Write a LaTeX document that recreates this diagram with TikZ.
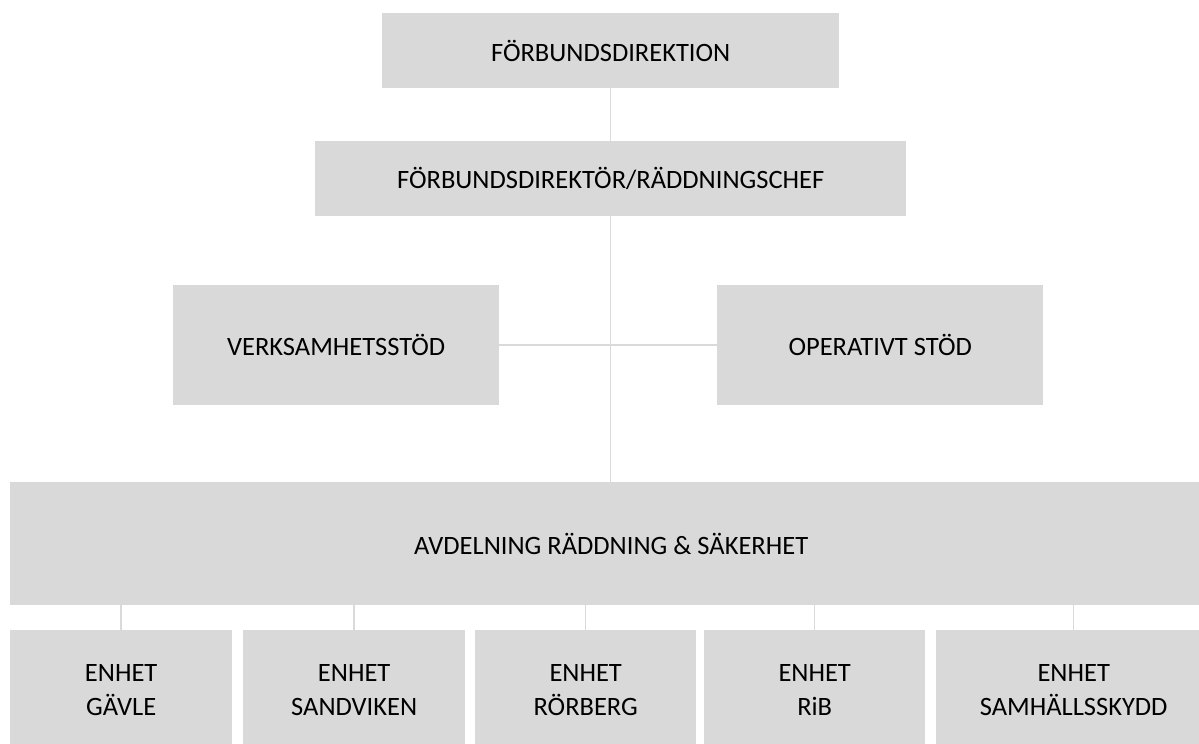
\documentclass[tikz,border=0pt]{standalone}
\usepackage{fontspec}
\setmainfont{Carlito}
\definecolor{boxgray}{HTML}{D9D9D9}
\definecolor{linegray}{HTML}{DADADA}
\begin{document}
\begin{tikzpicture}[x=1pt,y=-1pt,
  orgbox/.style={fill=boxgray, draw=none, inner sep=0pt, anchor=north west, align=center,
    font=\fontsize{26.5}{34}\selectfont, text=black},
  conn/.style={draw=linegray, line width=1.5pt}]
\clip (0,0) rectangle (1199,744);
\fill[white] (0,0) rectangle (1199,744);
% boxes
\node[orgbox, minimum width=457pt, minimum height=75pt] (dir) at (382,13) {FÖRBUNDSDIREKTION};
\node[orgbox, minimum width=591pt, minimum height=75pt] (chef) at (315,141) {FÖRBUNDSDIREKTÖR/RÄDDNINGSCHEF};
\node[orgbox, minimum width=326pt, minimum height=120pt] (verk) at (173,285) {VERKSAMHETSSTÖD};
\node[orgbox, minimum width=326pt, minimum height=120pt] (oper) at (717,285) {OPERATIVT STÖD};
\node[orgbox, minimum width=1202pt, minimum height=123pt] (avd) at (10,482) {AVDELNING RÄDDNING \& SÄKERHET};
\node[orgbox, minimum width=222pt, minimum height=120pt] (gav) at (10,630) {ENHET\\GÄVLE};
\node[orgbox, minimum width=222pt, minimum height=120pt] (san) at (243,630) {ENHET\\SANDVIKEN};
\node[orgbox, minimum width=221pt, minimum height=120pt] (ror) at (475,630) {ENHET\\RÖRBERG};
\node[orgbox, minimum width=221pt, minimum height=120pt] (rib) at (704,630) {ENHET\\RiB};
\node[orgbox, minimum width=275pt, minimum height=120pt] (sam) at (936,630) {ENHET\\SAMHÄLLSSKYDD};
% connectors
\draw[conn] (dir.south) -- (dir.south |- chef.north);
\draw[conn] (chef.south) -- (chef.south |- avd.north);
\draw[conn] (verk.east) -- (oper.west);
\foreach \n in {gav,san,ror,rib,sam}
  \draw[conn] (\n.north) -- (\n.north |- avd.south);
\end{tikzpicture}
\end{document}
